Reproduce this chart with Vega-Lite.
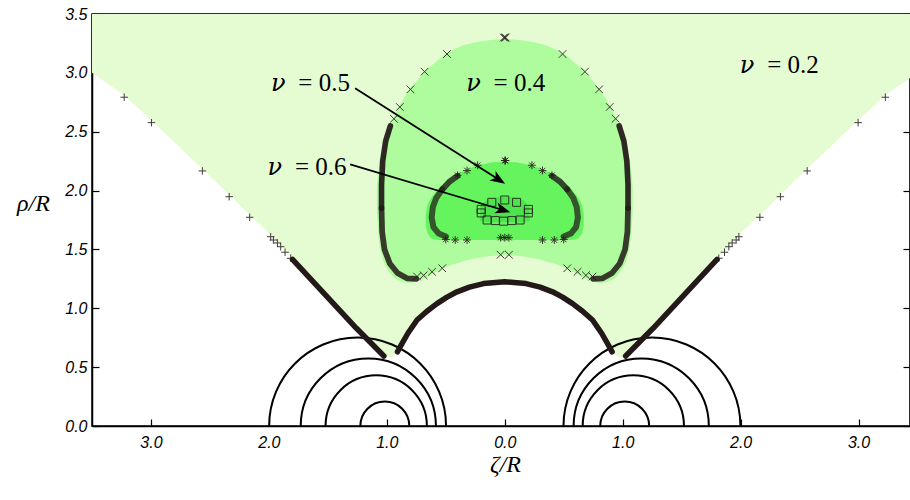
{
"$schema": "https://vega.github.io/schema/vega-lite/v6.json",
"width": 818, "height": 412,
"autosize": "none",
"padding": {"left": 92, "top": 14, "right": 0, "bottom": 74},
"background": "white",
"config": {
  "view": {"stroke": "black", "strokeWidth": 1.5},
  "axis": {"domainColor": "black", "domainWidth": 1.5, "tickColor": "black", "tickWidth": 1.2, "tickSize": -7,
    "labelFont": "Liberation Sans", "labelFontStyle": "italic", "labelFontSize": 16, "labelColor": "black",
    "grid": false, "labelFlush": false, "labelOverlap": false, "labelBound": false,
    "titleFont": "Liberation Serif", "titleFontStyle": "italic", "titleFontWeight": "normal", "titleFontSize": 24, "titleColor": "black"}
},
"datasets": {
  "fill02": [
    {"z": -3.5, "lo": 3.0}, {"z": -3.227, "lo": 2.81}, {"z": -2.996, "lo": 2.595}, {"z": -2.564, "lo": 2.185}, {"z": -2.337, "lo": 1.965},
    {"z": -2.163, "lo": 1.79}, {"z": -1.985, "lo": 1.625}, {"z": -1.815, "lo": 1.445}, {"z": -1.5, "lo": 1.11}, {"z": -1.25, "lo": 0.845},
    {"z": -1.03, "lo": 0.59}, {"z": -0.96, "lo": 0.585}, {"z": -0.91, "lo": 0.63}, {"z": -0.886, "lo": 0.674}, {"z": -0.82, "lo": 0.79},
    {"z": -0.744, "lo": 0.9}, {"z": -0.66, "lo": 0.975}, {"z": -0.575, "lo": 1.04}, {"z": -0.49, "lo": 1.095}, {"z": -0.405, "lo": 1.14},
    {"z": -0.3, "lo": 1.18}, {"z": -0.18, "lo": 1.21}, {"z": 0, "lo": 1.225},
    {"z": 0.18, "lo": 1.21}, {"z": 0.3, "lo": 1.18}, {"z": 0.405, "lo": 1.14}, {"z": 0.49, "lo": 1.095}, {"z": 0.575, "lo": 1.04},
    {"z": 0.66, "lo": 0.975}, {"z": 0.744, "lo": 0.9}, {"z": 0.82, "lo": 0.79}, {"z": 0.886, "lo": 0.674}, {"z": 0.91, "lo": 0.63},
    {"z": 0.96, "lo": 0.585}, {"z": 1.03, "lo": 0.59}, {"z": 1.25, "lo": 0.845}, {"z": 1.5, "lo": 1.11}, {"z": 1.815, "lo": 1.445},
    {"z": 1.985, "lo": 1.625}, {"z": 2.163, "lo": 1.79}, {"z": 2.337, "lo": 1.965}, {"z": 2.564, "lo": 2.185}, {"z": 2.996, "lo": 2.595},
    {"z": 3.227, "lo": 2.81}, {"z": 3.5, "lo": 3.0}
  ],
  "fill04": [
    {"z": -1.085, "lo": 1.82, "hi": 2.02}, {"z": -1.075, "lo": 1.68, "hi": 2.14}, {"z": -1.06, "lo": 1.52, "hi": 2.26},
    {"z": -1.03, "lo": 1.4, "hi": 2.38}, {"z": -0.99, "lo": 1.32, "hi": 2.5}, {"z": -0.94, "lo": 1.26, "hi": 2.62},
    {"z": -0.9, "lo": 1.235, "hi": 2.71}, {"z": -0.85, "lo": 1.22, "hi": 2.79}, {"z": -0.8, "lo": 1.215, "hi": 2.87},
    {"z": -0.72, "lo": 1.235, "hi": 2.96}, {"z": -0.66, "lo": 1.265, "hi": 3.03}, {"z": -0.6, "lo": 1.3, "hi": 3.08},
    {"z": -0.52, "lo": 1.34, "hi": 3.15}, {"z": -0.45, "lo": 1.37, "hi": 3.19}, {"z": -0.35, "lo": 1.4, "hi": 3.235},
    {"z": -0.25, "lo": 1.425, "hi": 3.26}, {"z": -0.12, "lo": 1.445, "hi": 3.28}, {"z": 0, "lo": 1.45, "hi": 3.29},
    {"z": 0.12, "lo": 1.445, "hi": 3.28}, {"z": 0.25, "lo": 1.425, "hi": 3.26}, {"z": 0.35, "lo": 1.4, "hi": 3.235},
    {"z": 0.45, "lo": 1.37, "hi": 3.19}, {"z": 0.52, "lo": 1.34, "hi": 3.15}, {"z": 0.6, "lo": 1.3, "hi": 3.08},
    {"z": 0.66, "lo": 1.265, "hi": 3.03}, {"z": 0.72, "lo": 1.235, "hi": 2.96}, {"z": 0.8, "lo": 1.215, "hi": 2.87},
    {"z": 0.85, "lo": 1.22, "hi": 2.79}, {"z": 0.9, "lo": 1.235, "hi": 2.71}, {"z": 0.94, "lo": 1.26, "hi": 2.62},
    {"z": 0.99, "lo": 1.32, "hi": 2.5}, {"z": 1.03, "lo": 1.4, "hi": 2.38}, {"z": 1.06, "lo": 1.52, "hi": 2.26},
    {"z": 1.075, "lo": 1.68, "hi": 2.14}, {"z": 1.085, "lo": 1.82, "hi": 2.02}
  ],
  "fill05": [
    {"z": -0.67, "lo": 1.7, "hi": 1.8}, {"z": -0.655, "lo": 1.64, "hi": 1.88}, {"z": -0.63, "lo": 1.6, "hi": 1.93},
    {"z": -0.6, "lo": 1.585, "hi": 1.97}, {"z": -0.55, "lo": 1.58, "hi": 2.03}, {"z": -0.48, "lo": 1.58, "hi": 2.09},
    {"z": -0.4, "lo": 1.58, "hi": 2.14}, {"z": -0.3, "lo": 1.58, "hi": 2.19}, {"z": -0.2, "lo": 1.58, "hi": 2.22},
    {"z": -0.1, "lo": 1.58, "hi": 2.24}, {"z": 0, "lo": 1.58, "hi": 2.245}, {"z": 0.1, "lo": 1.58, "hi": 2.24},
    {"z": 0.2, "lo": 1.58, "hi": 2.22}, {"z": 0.3, "lo": 1.58, "hi": 2.19}, {"z": 0.4, "lo": 1.58, "hi": 2.14},
    {"z": 0.48, "lo": 1.58, "hi": 2.09}, {"z": 0.55, "lo": 1.58, "hi": 2.03}, {"z": 0.6, "lo": 1.585, "hi": 1.97},
    {"z": 0.63, "lo": 1.6, "hi": 1.93}, {"z": 0.655, "lo": 1.64, "hi": 1.88}, {"z": 0.67, "lo": 1.7, "hi": 1.8}
  ],
  "fill06": [
    {"z": -0.21, "lo": 1.745, "hi": 1.86}, {"z": -0.15, "lo": 1.73, "hi": 1.92}, {"z": 0, "lo": 1.73, "hi": 1.95},
    {"z": 0.15, "lo": 1.73, "hi": 1.92}, {"z": 0.21, "lo": 1.745, "hi": 1.86}
  ],
  "spheres": [
    {"z": -1.017, "r": 0.208}, {"z": -1.09, "r": 0.43}, {"z": -1.157, "r": 0.574}, {"z": -1.248, "r": 0.751},
    {"z": 1.017, "r": 0.208}, {"z": 1.09, "r": 0.43}, {"z": 1.157, "r": 0.574}, {"z": 1.248, "r": 0.751}
  ],
  "bands": [
    {"s": "AL", "g": "A", "o": 1, "z": -1.8, "rho": 1.415}, {"s": "AL", "g": "A", "o": 2, "z": -1.258, "rho": 0.83}, {"s": "AL", "g": "A", "o": 3, "z": -1.025, "rho": 0.595},
    {"s": "AR", "g": "A", "o": 1, "z": 1.8, "rho": 1.415}, {"s": "AR", "g": "A", "o": 2, "z": 1.258, "rho": 0.83}, {"s": "AR", "g": "A", "o": 3, "z": 1.025, "rho": 0.595},
    {"s": "ARCH", "g": "A", "o": 1, "z": -0.91, "rho": 0.63}, {"s": "ARCH", "g": "A", "o": 2, "z": -0.886, "rho": 0.674}, {"s": "ARCH", "g": "A", "o": 3, "z": -0.82, "rho": 0.79},
    {"s": "ARCH", "g": "A", "o": 4, "z": -0.744, "rho": 0.9}, {"s": "ARCH", "g": "A", "o": 5, "z": -0.66, "rho": 0.975}, {"s": "ARCH", "g": "A", "o": 6, "z": -0.575, "rho": 1.04},
    {"s": "ARCH", "g": "A", "o": 7, "z": -0.49, "rho": 1.095}, {"s": "ARCH", "g": "A", "o": 8, "z": -0.405, "rho": 1.14}, {"s": "ARCH", "g": "A", "o": 9, "z": -0.3, "rho": 1.18},
    {"s": "ARCH", "g": "A", "o": 10, "z": -0.18, "rho": 1.21}, {"s": "ARCH", "g": "A", "o": 11, "z": 0, "rho": 1.225}, {"s": "ARCH", "g": "A", "o": 12, "z": 0.18, "rho": 1.21},
    {"s": "ARCH", "g": "A", "o": 13, "z": 0.3, "rho": 1.18}, {"s": "ARCH", "g": "A", "o": 14, "z": 0.405, "rho": 1.14}, {"s": "ARCH", "g": "A", "o": 15, "z": 0.49, "rho": 1.095},
    {"s": "ARCH", "g": "A", "o": 16, "z": 0.575, "rho": 1.04}, {"s": "ARCH", "g": "A", "o": 17, "z": 0.66, "rho": 0.975}, {"s": "ARCH", "g": "A", "o": 18, "z": 0.744, "rho": 0.9},
    {"s": "ARCH", "g": "A", "o": 19, "z": 0.82, "rho": 0.79}, {"s": "ARCH", "g": "A", "o": 20, "z": 0.886, "rho": 0.674}, {"s": "ARCH", "g": "A", "o": 21, "z": 0.91, "rho": 0.63},
    {"s": "BL", "g": "B", "o": 1, "z": -0.97, "rho": 2.55}, {"s": "BL", "g": "B", "o": 2, "z": -1.01, "rho": 2.42}, {"s": "BL", "g": "B", "o": 3, "z": -1.035, "rho": 2.25}, {"s": "BL", "g": "B", "o": 4, "z": -1.045, "rho": 2.05}, {"s": "BL", "g": "B", "o": 5, "z": -1.045, "rho": 1.85},
    {"s": "BR", "g": "B", "o": 1, "z": 0.97, "rho": 2.55}, {"s": "BR", "g": "B", "o": 2, "z": 1.01, "rho": 2.42}, {"s": "BR", "g": "B", "o": 3, "z": 1.035, "rho": 2.25}, {"s": "BR", "g": "B", "o": 4, "z": 1.045, "rho": 2.05}, {"s": "BR", "g": "B", "o": 5, "z": 1.045, "rho": 1.85},
    {"s": "CL", "g": "C", "o": 1, "z": -1.045, "rho": 1.85}, {"s": "CL", "g": "C", "o": 2, "z": -1.04, "rho": 1.65}, {"s": "CL", "g": "C", "o": 3, "z": -1.02, "rho": 1.5}, {"s": "CL", "g": "C", "o": 4, "z": -0.975, "rho": 1.38},
    {"s": "CL", "g": "C", "o": 5, "z": -0.91, "rho": 1.3}, {"s": "CL", "g": "C", "o": 6, "z": -0.83, "rho": 1.255}, {"s": "CL", "g": "C", "o": 7, "z": -0.75, "rho": 1.25},
    {"s": "CR", "g": "C", "o": 1, "z": 1.045, "rho": 1.85}, {"s": "CR", "g": "C", "o": 2, "z": 1.04, "rho": 1.65}, {"s": "CR", "g": "C", "o": 3, "z": 1.02, "rho": 1.5}, {"s": "CR", "g": "C", "o": 4, "z": 0.975, "rho": 1.38},
    {"s": "CR", "g": "C", "o": 5, "z": 0.91, "rho": 1.3}, {"s": "CR", "g": "C", "o": 6, "z": 0.83, "rho": 1.255}, {"s": "CR", "g": "C", "o": 7, "z": 0.75, "rho": 1.25},
    {"s": "DL", "g": "D", "o": 1, "z": -0.4, "rho": 2.125}, {"s": "DL", "g": "D", "o": 2, "z": -0.47, "rho": 2.075}, {"s": "DL", "g": "D", "o": 3, "z": -0.53, "rho": 2.01},
    {"s": "DR", "g": "D", "o": 1, "z": 0.4, "rho": 2.125}, {"s": "DR", "g": "D", "o": 2, "z": 0.47, "rho": 2.075}, {"s": "DR", "g": "D", "o": 3, "z": 0.53, "rho": 2.01},
    {"s": "EL", "g": "E", "o": 1, "z": -0.53, "rho": 2.01}, {"s": "EL", "g": "E", "o": 2, "z": -0.58, "rho": 1.94}, {"s": "EL", "g": "E", "o": 3, "z": -0.61, "rho": 1.86}, {"s": "EL", "g": "E", "o": 4, "z": -0.62, "rho": 1.77},
    {"s": "EL", "g": "E", "o": 5, "z": -0.605, "rho": 1.69}, {"s": "EL", "g": "E", "o": 6, "z": -0.56, "rho": 1.635}, {"s": "EL", "g": "E", "o": 7, "z": -0.5, "rho": 1.61},
    {"s": "ER", "g": "E", "o": 1, "z": 0.53, "rho": 2.01}, {"s": "ER", "g": "E", "o": 2, "z": 0.58, "rho": 1.94}, {"s": "ER", "g": "E", "o": 3, "z": 0.61, "rho": 1.86}, {"s": "ER", "g": "E", "o": 4, "z": 0.62, "rho": 1.77},
    {"s": "ER", "g": "E", "o": 5, "z": 0.605, "rho": 1.69}, {"s": "ER", "g": "E", "o": 6, "z": 0.56, "rho": 1.635}, {"s": "ER", "g": "E", "o": 7, "z": 0.5, "rho": 1.61}
  ],
  "markers": [
    {"m": "p", "z": -3.227, "rho": 2.793}, {"m": "p", "z": -2.996, "rho": 2.577}, {"m": "p", "z": -2.564, "rho": 2.167}, {"m": "p", "z": -2.337, "rho": 1.948},
    {"m": "p", "z": -2.163, "rho": 1.773}, {"m": "p", "z": -1.985, "rho": 1.608}, {"m": "p", "z": -1.962, "rho": 1.58}, {"m": "p", "z": -1.928, "rho": 1.555},
    {"m": "p", "z": -1.9, "rho": 1.523}, {"m": "p", "z": -1.863, "rho": 1.476}, {"m": "p", "z": -1.815, "rho": 1.425},
    {"m": "p", "z": 3.227, "rho": 2.793}, {"m": "p", "z": 2.996, "rho": 2.577}, {"m": "p", "z": 2.564, "rho": 2.167}, {"m": "p", "z": 2.337, "rho": 1.948},
    {"m": "p", "z": 2.163, "rho": 1.773}, {"m": "p", "z": 1.985, "rho": 1.608}, {"m": "p", "z": 1.962, "rho": 1.58}, {"m": "p", "z": 1.928, "rho": 1.555},
    {"m": "p", "z": 1.9, "rho": 1.523}, {"m": "p", "z": 1.863, "rho": 1.476}, {"m": "p", "z": 1.815, "rho": 1.425},
    {"m": "x", "z": 0, "rho": 3.3}, {"m": "x", "z": 0.008, "rho": 3.3}, {"m": "x", "z": -0.008, "rho": 3.3},
    {"m": "x", "z": -0.49, "rho": 3.16}, {"m": "x", "z": -0.68, "rho": 3.01}, {"m": "x", "z": -0.8, "rho": 2.86}, {"m": "x", "z": -0.89, "rho": 2.71}, {"m": "x", "z": -0.94, "rho": 2.61},
    {"m": "x", "z": 0.49, "rho": 3.16}, {"m": "x", "z": 0.68, "rho": 3.01}, {"m": "x", "z": 0.8, "rho": 2.86}, {"m": "x", "z": 0.89, "rho": 2.71}, {"m": "x", "z": 0.94, "rho": 2.61},
    {"m": "x", "z": -0.744, "rho": 1.27}, {"m": "x", "z": -0.688, "rho": 1.28}, {"m": "x", "z": -0.617, "rho": 1.31}, {"m": "x", "z": -0.53, "rho": 1.34},
    {"m": "x", "z": 0.744, "rho": 1.27}, {"m": "x", "z": 0.688, "rho": 1.28}, {"m": "x", "z": 0.617, "rho": 1.31}, {"m": "x", "z": 0.53, "rho": 1.34},
    {"m": "X", "z": -0.035, "rho": 1.455}, {"m": "X", "z": 0.035, "rho": 1.455},
    {"m": "a", "z": 0, "rho": 2.255}, {"m": "a", "z": 0.006, "rho": 2.255},
    {"m": "a", "z": -0.23, "rho": 2.215}, {"m": "a", "z": 0.23, "rho": 2.215}, {"m": "a", "z": -0.32, "rho": 2.17}, {"m": "a", "z": 0.32, "rho": 2.17},
    {"m": "a", "z": -0.4, "rho": 2.13}, {"m": "a", "z": 0.4, "rho": 2.13},
    {"m": "a", "z": -0.32, "rho": 1.58}, {"m": "a", "z": 0.32, "rho": 1.58}, {"m": "a", "z": -0.42, "rho": 1.58}, {"m": "a", "z": 0.42, "rho": 1.58},
    {"m": "a", "z": -0.5, "rho": 1.585}, {"m": "a", "z": 0.5, "rho": 1.585},
    {"m": "a", "z": -0.035, "rho": 1.6}, {"m": "a", "z": 0, "rho": 1.6}, {"m": "a", "z": 0.035, "rho": 1.6},
    {"m": "s", "z": 0, "rho": 1.92}, {"m": "s", "z": -0.11, "rho": 1.9}, {"m": "s", "z": 0.1, "rho": 1.9},
    {"m": "s", "z": -0.2, "rho": 1.84}, {"m": "s", "z": 0.2, "rho": 1.84}, {"m": "s", "z": -0.2, "rho": 1.81}, {"m": "s", "z": 0.2, "rho": 1.81},
    {"m": "s", "z": -0.15, "rho": 1.75}, {"m": "s", "z": -0.08, "rho": 1.745}, {"m": "s", "z": -0.01, "rho": 1.74}, {"m": "s", "z": 0.06, "rho": 1.745}, {"m": "s", "z": 0.13, "rho": 1.75}
  ],
  "arrows": [
    {"id": "a5", "o": 1, "z": -1.269, "rho": 2.869}, {"id": "a5", "o": 2, "z": -0.052, "rho": 2.094},
    {"id": "a6", "o": 1, "z": -1.311, "rho": 2.223}, {"id": "a6", "o": 2, "z": -0.016, "rho": 1.835}
  ],
  "labels": [
    {"nu": "ν", "t": "= 0.2", "z": 2.328, "rho": 2.997},
    {"nu": "ν", "t": "= 0.4", "z": 0.008, "rho": 2.849},
    {"nu": "ν", "t": "= 0.5", "z": -1.648, "rho": 2.849},
    {"nu": "ν", "t": "= 0.6", "z": -1.676, "rho": 2.133}
  ]
},
"resolve": {"axis": {"x": "independent", "y": "independent"}, "scale": {"size": "independent", "shape": "independent", "strokeWidth": "independent", "opacity": "independent"}},
"layer": [
  {
    "data": {"name": "fill02"},
    "mark": {"type": "area", "color": "#e5fcd3", "clip": true},
    "encoding": {
      "x": {"field": "z", "type": "quantitative", "scale": {"domain": [-3.5, 3.436], "nice": false, "zero": false},
        "axis": {"orient": "bottom", "values": [-3, -2, -1, 0, 1, 2, 3], "labelExpr": "format(abs(datum.value), '.1f')", "labelPadding": 15,
          "labelFont": "Liberation Sans", "labelFontStyle": "italic", "labelFontSize": 16,
          "title": "ζ/R", "titleX": 413, "titleY": 38, "titleAlign": "center", "titleBaseline": "middle"}},
      "y": {"field": "lo", "type": "quantitative", "scale": {"domain": [0, 3.5], "nice": false, "zero": false},
        "axis": {"orient": "left", "values": [0, 0.5, 1, 1.5, 2, 2.5, 3, 3.5], "format": ".1f", "labelPadding": 12,
          "labelFont": "Liberation Sans", "labelFontStyle": "italic", "labelFontSize": 16,
          "title": "ρ/R", "titleAngle": 0, "titleX": -59, "titleY": 189, "titleAlign": "center", "titleBaseline": "middle"}},
      "y2": {"datum": 3.5}
    }
  },
  {
    "data": {"name": "fill04"},
    "mark": {"type": "area", "color": "#aefc9e"},
    "encoding": {
      "x": {"field": "z", "type": "quantitative", "scale": {"domain": [-3.5, 3.436], "nice": false, "zero": false},
        "axis": {"orient": "top", "values": [-3, -2, -1, 0, 1, 2, 3], "labels": false, "title": null}},
      "y": {"field": "lo", "type": "quantitative", "scale": {"domain": [0, 3.5], "nice": false, "zero": false},
        "axis": {"orient": "right", "values": [0, 0.5, 1, 1.5, 2, 2.5, 3, 3.5], "labels": false, "title": null}},
      "y2": {"field": "hi"}
    }
  },
  {
    "data": {"name": "fill05"},
    "mark": {"type": "area", "color": "#66f45e"},
    "encoding": {
      "x": {"field": "z", "type": "quantitative", "axis": null},
      "y": {"field": "lo", "type": "quantitative", "axis": null},
      "y2": {"field": "hi"}
    }
  },
  {
    "data": {"name": "fill06"},
    "mark": {"type": "area", "color": "#4fe24f", "interpolate": "monotone"},
    "encoding": {
      "x": {"field": "z", "type": "quantitative", "axis": null},
      "y": {"field": "lo", "type": "quantitative", "axis": null},
      "y2": {"field": "hi"}
    }
  },
  {
    "data": {"name": "spheres"},
    "mark": {"type": "point", "filled": false, "color": "black", "strokeWidth": 2, "opacity": 1, "shape": "M-1,0A1,1,0,0,1,1,0"},
    "encoding": {
      "x": {"field": "z", "type": "quantitative", "axis": null},
      "y": {"datum": 0, "type": "quantitative", "axis": null},
      "size": {"field": "r", "type": "quantitative", "legend": null, "scale": {"type": "pow", "exponent": 2, "domain": [0, 1], "range": [0, 55507], "zero": true}}
    }
  },
  {
    "data": {"name": "bands"},
    "mark": {"type": "line", "color": "#231919", "strokeCap": "round", "strokeJoin": "round"},
    "encoding": {
      "x": {"field": "z", "type": "quantitative", "axis": null},
      "y": {"field": "rho", "type": "quantitative", "axis": null},
      "detail": {"field": "s"},
      "order": {"field": "o", "type": "quantitative"},
      "strokeWidth": {"field": "g", "type": "nominal", "scale": {"domain": ["A", "B", "C", "D", "E"], "range": [5.5, 6, 7.5, 5, 11]}, "legend": null},
      "opacity": {"field": "g", "type": "nominal", "scale": {"domain": ["A", "B", "C", "D", "E"], "range": [1, 0.72, 1, 0.85, 1]}, "legend": null}
    }
  },
  {
    "data": {"name": "markers"},
    "mark": {"type": "point", "filled": false, "color": "#231919", "strokeWidth": 1, "opacity": 0.85},
    "encoding": {
      "x": {"field": "z", "type": "quantitative", "axis": null},
      "y": {"field": "rho", "type": "quantitative", "axis": null},
      "shape": {"field": "m", "type": "nominal", "legend": null,
        "scale": {"domain": ["p", "x", "X", "a", "s"], "range": ["M-1,0L1,0M0,-1L0,1", "M-1,-1L1,1M-1,1L1,-1", "M-1,-1L1,1M-1,1L1,-1", "M-1,0L1,0M0,-1L0,1M-0.7,-0.7L0.7,0.7M-0.7,0.7L0.7,-0.7", "square"]}},
      "size": {"field": "m", "type": "nominal", "legend": null,
        "scale": {"domain": ["p", "x", "X", "a", "s"], "range": [56, 64, 90, 70, 72]}}
    }
  },
  {
    "data": {"name": "arrows"},
    "mark": {"type": "line", "color": "black", "strokeWidth": 1.8},
    "encoding": {
      "x": {"field": "z", "type": "quantitative", "axis": null},
      "y": {"field": "rho", "type": "quantitative", "axis": null},
      "detail": {"field": "id"},
      "order": {"field": "o", "type": "quantitative"}
    }
  },
  {
    "data": {"name": "arrows"},
    "transform": [{"filter": "datum.id == 'a5' && datum.o == 2"}],
    "mark": {"type": "point", "filled": true, "color": "black", "opacity": 1, "size": 225, "angle": 32.5, "shape": "M0.25,0L-1.75,-0.75L-1.25,0L-1.75,0.75Z"},
    "encoding": {
      "x": {"datum": -0.01, "type": "quantitative", "axis": null},
      "y": {"datum": 2.067, "type": "quantitative", "axis": null}
    }
  },
  {
    "data": {"name": "arrows"},
    "transform": [{"filter": "datum.id == 'a6' && datum.o == 2"}],
    "mark": {"type": "point", "filled": true, "color": "black", "opacity": 1, "size": 225, "angle": 16.7, "shape": "M0.25,0L-1.75,-0.75L-1.25,0L-1.75,0.75Z"},
    "encoding": {
      "x": {"datum": 0.032, "type": "quantitative", "axis": null},
      "y": {"datum": 1.821, "type": "quantitative", "axis": null}
    }
  },
  {
    "data": {"name": "labels"},
    "mark": {"type": "text", "font": "DejaVu Serif", "fontStyle": "italic", "fontSize": 24, "color": "black", "align": "left", "baseline": "alphabetic", "dx": -39.5},
    "encoding": {
      "x": {"field": "z", "type": "quantitative", "axis": null},
      "y": {"field": "rho", "type": "quantitative", "axis": null},
      "text": {"field": "nu"}
    }
  },
  {
    "data": {"name": "labels"},
    "mark": {"type": "text", "font": "Liberation Serif", "fontSize": 25, "color": "black", "align": "right", "baseline": "alphabetic", "dx": 39.5},
    "encoding": {
      "x": {"field": "z", "type": "quantitative", "axis": null},
      "y": {"field": "rho", "type": "quantitative", "axis": null},
      "text": {"field": "t"}
    }
  }
]
}
